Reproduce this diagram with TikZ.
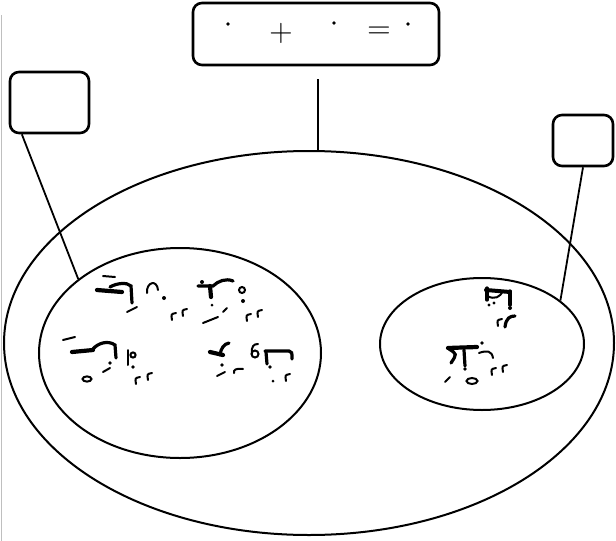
\documentclass[tikz,border=0pt]{standalone}
\usetikzlibrary{shapes.geometric,calc}
\tikzset{
    % boxes, sets and connectors
    box/.style={draw, line width=2.6pt, rounded corners=9pt, inner sep=0pt},
    set/.style={draw, ellipse, line width=2pt, inner sep=0pt},
    link/.style={line width=1.8pt},
    sign/.style={font=\Huge, scale=1.3},
    % pen strokes of the scanned words
    ink/.style={line width=3.2pt, line cap=round},
    inkthin/.style={line width=2pt, line cap=round}
}
\def\cMark#1 {
    \begin{scope}[shift={#1}]
        \draw[inkthin] (3,-4) .. controls (-2,-3) .. (-1,3);
    \end{scope}
}

\begin{document}
\begin{tikzpicture}[x=1pt,y=-1pt]
    \useasboundingbox (0,0) rectangle (616,541);
    \draw[gray!50, line width=1pt] (1,15) -- (1,541);

    \node[box, minimum width=246pt, minimum height=62pt] (formula) at (316,34) {};
    \node[box, minimum width=79pt, minimum height=61pt] (lbox) at (49.5,102.5) {};
    \node[box, minimum width=60pt, minimum height=51pt] (rbox) at (583,140.5) {};
    \node[set, minimum width=610pt, minimum height=384pt] (big) at (309,343) {};
    \node[set, minimum width=282pt, minimum height=210pt] (inL) at (180,353) {};
    \node[set, minimum width=204pt, minimum height=132pt] (inR) at (482,344) {};

    % formula
    \node[sign] (plus) at (281,33) {$+$};
    \node[sign] (equals) at (379,33) {$=$};
    \foreach \x/\y in {228/24, 334/23, 408/24}
        \fill (\x,\y) circle (1.8pt);

    % connectors
    \coordinate (stem) at ([xshift=2pt,yshift=-13pt]formula.south);
    \draw[link] (stem) -- (stem |- big.north);
    \draw[link] (lbox.-131) -- (inL.144);
    \draw[link] (rbox.south) -- (inR.29);

    % word 1
    \draw[inkthin] (103,276) -- (115,277);
    \draw[ink, line width=4.2pt] (97,290) -- (122,292);
    \draw[ink] (110,287) .. controls (117,283) and (127,282) .. (131,286) -- (132,303);
    \draw[inkthin] (147,293) .. controls (146,282) and (157,279) .. (158,290);
    \fill (164,298) circle (2pt);
    \draw[inkthin] (127,312) -- (137,307);
    \cMark{(173,317)}
    \cMark{(184,313)}

    % word 2
    \fill (202,282) circle (2pt);
    \draw[ink] (198,286) -- (213,286) .. controls (218,281) and (226,278) .. (233,281);
    \draw[ink, line width=4.2pt] (210,286) -- (211,297);
    \draw[inkthin] (242,290) circle (3pt);
    \fill (243,301) circle (2pt);
    \fill (212,305) circle (1.5pt);
    \draw[inkthin] (203,323) -- (218,317);
    \draw[inkthin] (223,312) -- (227,308);
    \cMark{(248,318)}
    \cMark{(259,314)}

    % word 3
    \draw[inkthin] (63,340) -- (75,337);
    \draw[ink, line width=4.2pt] (72,352) -- (93,350);
    \draw[ink] (93,349) .. controls (98,343) and (108,340) .. (115,345) -- (116,358);
    \draw[inkthin] (128,350) -- (128,365);
    \draw[inkthin] (133,355) circle (2.6pt);
    \fill (133,367) circle (1.8pt);
    \fill (110,363) circle (1.8pt);
    \draw[inkthin] (103,372) -- (110,368);
    \draw[inkthin] (87,379) ellipse (4.5pt and 2.6pt);
    \cMark{(137,381)}
    \cMark{(149,377)}

    % word 4
    \draw[ink, line width=4.2pt] (210,352) -- (223,355);
    \draw[ink] (220,355) .. controls (221,348) and (224,344) .. (229,343);
    \draw[inkthin] (255,354) circle (3.5pt);
    \draw[inkthin] (252,354) .. controls (251,346) and (254,344) .. (258,344);
    \draw[ink] (265,351) -- (289,351) .. controls (292,352) .. (292,359);
    \draw[ink] (266,352) -- (267,364);
    \fill (222,365) circle (1.8pt);
    \fill (270,367) circle (1.8pt);
    \draw[inkthin] (217,376) -- (225,372);
    \draw[inkthin] (243,369) .. controls (236,368) and (233,370) .. (234,373);
    \fill (273,381) circle (1.5pt);
    \cMark{(287,378)}

    % word 5
    \draw[ink, line width=4pt] (486,290) -- (510,292);
    \draw[ink] (487,288) -- (487,300);
    \draw[inkthin] (487,296) .. controls (495,300) and (500,297) .. (503,291);
    \draw[ink] (510,291) -- (510,305);
    \fill (510,308) circle (2pt);
    \fill (489,305) circle (1.6pt);
    \fill (494,303) circle (1.6pt);
    \cMark{(499,323)}
    \draw[ink] (505,327) .. controls (506,318) and (510,316) .. (515,316);

    % word 6
    \draw[ink, line width=4.2pt] (448,348) -- (477,347);
    \draw[ink] (449,349) .. controls (457,354) .. (451,363);
    \draw[ink] (464,350) -- (465,366);
    \draw[inkthin] (479,353) .. controls (487,350) and (492,351) .. (493,358);
    \fill (482,343) circle (1.8pt);
    \fill (465,369) circle (1.8pt);
    \cMark{(493,372)}
    \cMark{(504,369)}
    \draw[inkthin] (445,382) -- (450,377);
    \draw[inkthin] (472,381) ellipse (5.5pt and 3pt);
\end{tikzpicture}
\end{document}
